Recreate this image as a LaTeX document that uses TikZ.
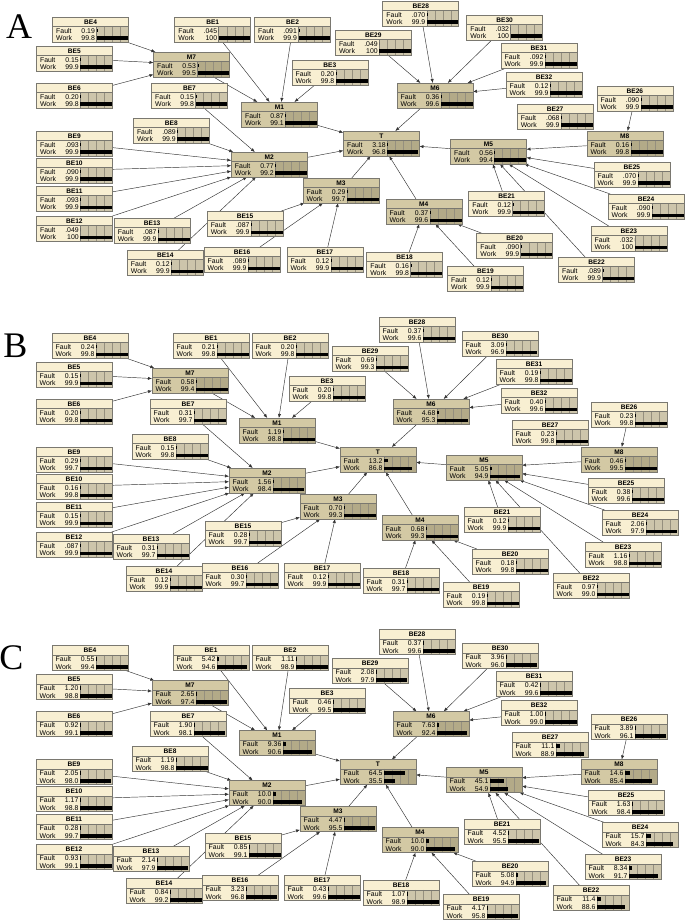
\documentclass[tikz,border=0pt]{standalone}
\usepackage{fontspec}
\setmainfont{Liberation Sans}
\newfontfamily\seriffont{Liberation Serif}
\usetikzlibrary{arrows.meta}
\pgfdeclarelayer{back}
\pgfdeclarelayer{bg}
\pgfsetlayers{back,bg,main}

\definecolor{becol}{HTML}{F8EFD2}
\definecolor{mcol}{HTML}{D3C9A4}
\definecolor{bebar}{HTML}{CDC5AB}
\definecolor{mbar}{HTML}{B3AA88}
\definecolor{bordc}{HTML}{7A7870}
\definecolor{gridc}{HTML}{958F7E}
\definecolor{edgec}{HTML}{333333}

\tikzset{
 befill/.style={fill=becol}, mfill/.style={fill=mcol},
 bebarf/.style={fill=bebar}, mbarf/.style={fill=mbar},
 boxout/.style={rectangle, draw=bordc, line width=0.6pt, minimum width=76pt,
   minimum height=25pt, inner sep=0pt, outer sep=0pt},
 ttl/.style={font=\bfseries\fontsize{6.6}{7}\selectfont, inner sep=0pt},
 lbl/.style={font=\fontsize{6.9}{7}\selectfont, inner sep=0pt},
 edge/.style={draw=edgec, line width=0.45pt, -{Latex[length=4pt,width=3.2pt]}},
 panlbl/.style={font=\seriffont\fontsize{36}{36}\selectfont, inner sep=0pt},
}

\newcommand\setval[3]{\expandafter\xdef\csname F#1\endcsname{#2}\expandafter\xdef\csname W#1\endcsname{#3}}
\newcommand\setvals[2]{\foreach \n/\f/\w in {#2} {\setval{#1\n}{\f}{\w}}}

\setvals{a}{BE1/.045/100,BE2/.091/99.9,BE3/0.20/99.8,BE4/0.19/99.8,BE5/0.15/99.9,
BE6/0.20/99.8,BE7/0.15/99.8,BE8/.089/99.9,BE9/.093/99.9,BE10/.090/99.9,
BE11/.093/99.9,BE12/.049/100,BE13/.087/99.9,BE14/0.12/99.9,BE15/.087/99.9,
BE16/.089/99.9,BE17/0.12/99.9,BE18/0.16/99.8,BE19/0.12/99.9,BE20/.090/99.9,
BE21/0.12/99.9,BE22/.089/99.9,BE23/.032/100,BE24/.090/99.9,BE25/.070/99.9,
BE26/.090/99.9,BE27/.068/99.9,BE28/.070/99.9,BE29/.049/100,BE30/.032/100,
BE31/.092/99.9,BE32/0.12/99.9,M1/0.87/99.1,M2/0.77/99.2,M3/0.29/99.7,
M4/0.37/99.6,M5/0.56/99.4,M6/0.36/99.6,M7/0.53/99.5,M8/0.16/99.8,T/3.18/96.8}

\setvals{b}{BE1/0.21/99.8,BE2/0.20/99.8,BE3/0.20/99.8,BE4/0.24/99.8,BE5/0.15/99.9,
BE6/0.20/99.8,BE7/0.31/99.7,BE8/0.15/99.8,BE9/0.29/99.7,BE10/0.16/99.8,
BE11/0.15/99.9,BE12/.087/99.9,BE13/0.31/99.7,BE14/0.12/99.9,BE15/0.28/99.7,
BE16/0.30/99.7,BE17/0.12/99.9,BE18/0.31/99.7,BE19/0.19/99.8,BE20/0.18/99.8,
BE21/0.12/99.9,BE22/0.97/99.0,BE23/1.16/98.8,BE24/2.06/97.9,BE25/0.38/99.6,
BE26/0.23/99.8,BE27/0.23/99.8,BE28/0.37/99.6,BE29/0.69/99.3,BE30/3.09/96.9,
BE31/0.19/99.8,BE32/0.40/99.6,M1/1.19/98.8,M2/1.56/98.4,M3/0.70/99.3,
M4/0.68/99.3,M5/5.05/94.9,M6/4.68/95.3,M7/0.58/99.4,M8/0.46/99.5,T/13.2/86.8}

\setvals{c}{BE1/5.42/94.6,BE2/1.11/98.9,BE3/0.46/99.5,BE4/0.55/99.4,BE5/1.20/98.8,
BE6/0.92/99.1,BE7/1.90/98.1,BE8/1.19/98.8,BE9/2.05/98.0,BE10/1.17/98.8,
BE11/0.28/99.7,BE12/0.93/99.1,BE13/2.14/97.9,BE14/0.84/99.2,BE15/0.85/99.1,
BE16/3.23/96.8,BE17/0.43/99.6,BE18/1.07/98.9,BE19/4.17/95.8,BE20/5.08/94.9,
BE21/4.52/95.5,BE22/11.4/88.6,BE23/8.34/91.7,BE24/15.7/84.3,BE25/1.63/98.4,
BE26/3.89/96.1,BE27/11.1/88.9,BE28/0.37/99.6,BE29/2.08/97.9,BE30/3.96/96.0,
BE31/0.42/99.6,BE32/1.00/99.0,M1/9.36/90.6,M2/10.0/90.0,M3/4.47/95.5,
M4/10.0/90.0,M5/45.1/54.9,M6/7.63/92.4,M7/2.65/97.4,M8/14.6/85.4,T/64.5/35.5}

% #1 prefix, #2 id, #3 x, #4 y, #5 kind (be/m)
\newcommand\bnode[5]{%
 \pgfmathsetmacro\bx{#3*\xs}%
 \pgfmathsetmacro\by{#4+\yo}%
 \edef\fv{\csname F#1#2\endcsname}%
 \edef\wv{\csname W#1#2\endcsname}%
 \pgfmathsetmacro\wb{0.32*\wv}%
 \pgfmathsetmacro\fb{max(0,0.32*(100-\wv))}%
 \fill[#5fill] (\bx,\by) rectangle (\bx+76,\by+25);
 \fill[#5barf] (\bx+44,\by+9.3) rectangle (\bx+76,\by+25);
 \foreach \gx in {52,60,68} {\draw[gridc, line width=0.4pt] (\bx+\gx,\by+9.3) -- (\bx+\gx,\by+25);}
 \draw[bordc, line width=0.5pt] (\bx,\by+9.3) -- (\bx+76,\by+9.3) (\bx+44,\by+9.3) -- (\bx+44,\by+25);
 \fill[black] (\bx+44,\by+11.9) rectangle (\bx+44+\fb,\by+15.3);
 \fill[black] (\bx+44,\by+19.5) rectangle (\bx+44+\wb,\by+23.3);
 \node[ttl,anchor=base] at (\bx+38,\by+7.3) {#2};
 \node[lbl,anchor=base west] at (\bx+3.5,\by+16.4) {Fault};
 \node[lbl,anchor=base east] at (\bx+42.6,\by+16.4) {\fv};
 \node[lbl,anchor=base west] at (\bx+3.5,\by+23.6) {Work};
 \node[lbl,anchor=base east] at (\bx+42.6,\by+23.6) {\wv};
 \node[boxout] (#1#2) at (\bx+38,\by+12.5) {};
}

% #1 prefix, #2 y of BE15
\newcommand\drawpanel[2]{%
 \bnode{#1}{BE4}{52}{333}{be}
 \bnode{#1}{BE1}{173}{333}{be}
 \bnode{#1}{BE2}{252}{333}{be}
 \bnode{#1}{BE5}{36}{362}{be}
 \bnode{#1}{M7}{152}{368}{m}
 \bnode{#1}{BE6}{36}{399}{be}
 \bnode{#1}{BE7}{150}{399}{be}
 \bnode{#1}{BE3}{289}{376}{be}
 \bnode{#1}{M1}{239}{418}{m}
 \bnode{#1}{BE8}{132}{434}{be}
 \bnode{#1}{BE9}{36}{447}{be}
 \bnode{#1}{BE10}{36}{474}{be}
 \bnode{#1}{BE11}{36}{502}{be}
 \bnode{#1}{BE12}{36}{532}{be}
 \bnode{#1}{BE13}{113}{534}{be}
 \bnode{#1}{BE14}{126}{566}{be}
 \bnode{#1}{BE15}{205}{#2}{be}
 \bnode{#1}{BE16}{202}{563}{be}
 \bnode{#1}{BE17}{284}{563}{be}
 \bnode{#1}{M2}{229}{468}{m}
 \bnode{#1}{M3}{300}{494}{m}
 \bnode{#1}{T}{340}{447}{m}
 \bnode{#1}{M4}{382}{515}{m}
 \bnode{#1}{BE18}{363}{568}{be}
 \bnode{#1}{BE19}{443}{582}{be}
 \bnode{#1}{BE20}{472}{549}{be}
 \bnode{#1}{BE21}{464}{507}{be}
 \bnode{#1}{BE22}{553}{573}{be}
 \bnode{#1}{BE23}{585}{542}{be}
 \bnode{#1}{BE24}{602}{510}{be}
 \bnode{#1}{BE25}{588}{478}{be}
 \bnode{#1}{M5}{446}{455}{m}
 \bnode{#1}{M8}{581}{447}{m}
 \bnode{#1}{BE26}{591}{402}{be}
 \bnode{#1}{BE27}{512}{420}{be}
 \bnode{#1}{BE28}{379}{317}{be}
 \bnode{#1}{BE29}{332}{346}{be}
 \bnode{#1}{BE30}{462}{331}{be}
 \bnode{#1}{BE31}{496}{359}{be}
 \bnode{#1}{BE32}{501}{388}{be}
 \bnode{#1}{M6}{393}{399}{m}
 \begin{pgfonlayer}{bg}
 \foreach \s/\t in {BE4/M7,BE5/M7,BE6/M7,M7/M1,BE1/M1,BE2/M1,BE3/M1,
   BE7/M2,BE8/M2,BE9/M2,BE10/M2,BE11/M2,BE12/M2,BE13/M2,BE14/M2,
   BE15/M3,BE16/M3,BE17/M3,BE18/M4,BE19/M4,BE20/M4,
   BE21/M5,BE22/M5,BE23/M5,BE24/M5,BE25/M5,M8/M5,BE26/M8,
   BE28/M6,BE29/M6,BE30/M6,BE31/M6,BE32/M6,
   M1/T,M2/T,M3/T,M4/T,M5/T,M6/T}
   {\draw[edge] (#1\s) -- (#1\t);}
 \end{pgfonlayer}
}

\begin{document}
\begin{tikzpicture}[x=1pt,y=-1pt]
\useasboundingbox (0,0) rectangle (685,920);
\begin{pgfonlayer}{back}
\fill[white] (0,0) rectangle (685,920);
\end{pgfonlayer}
% panel A
\def\xs{1.01}\def\yo{-316}
\drawpanel{a}{527}
\node[panlbl] (labA) at (19,27) {A};
% panel B
\def\xs{1}\def\yo{0}
\drawpanel{b}{521}
\node[panlbl] (labB) at (15.5,346) {B};
% panel C
\def\xs{1}\def\yo{312.5}
\drawpanel{c}{521}
\node[panlbl] (labC) at (11.5,658) {C};
\end{tikzpicture}
\end{document}
